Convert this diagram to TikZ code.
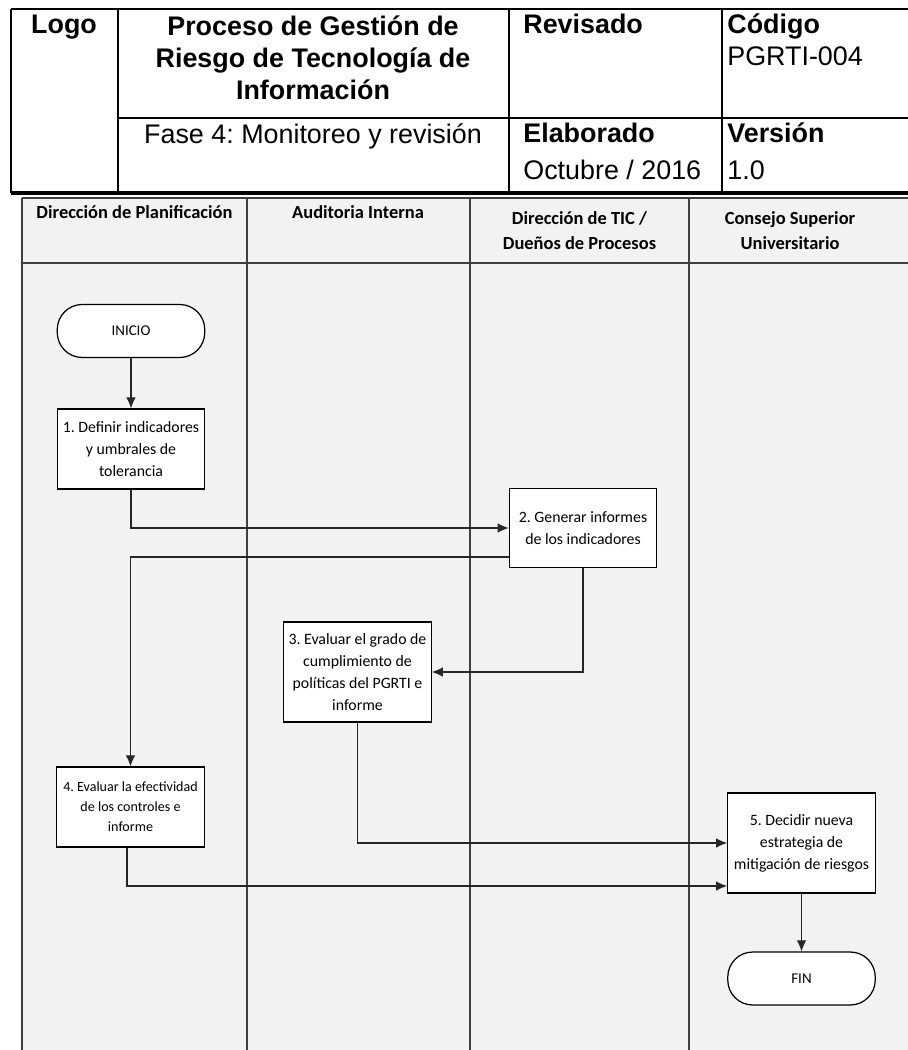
\documentclass[tikz,border=0pt]{standalone}
\usepackage{fontspec}
\setmainfont{Carlito}
\newfontfamily\hdrfont{Liberation Sans}
\usetikzlibrary{arrows.meta}
\definecolor{lanegray}{HTML}{F2F2F2}
\definecolor{laneline}{HTML}{3F3F3F}
\frenchspacing

\tikzset{%
  hdrtext/.style={inner sep=0pt, font=\hdrfont\fontsize{15.3pt}{18.4pt}\selectfont},%
  hdrbold/.style={hdrtext, font=\hdrfont\bfseries\fontsize{15.3pt}{18.4pt}\selectfont},%
  lanehead/.style={align=center, inner sep=0pt, font=\bfseries\fontsize{10.5pt}{14.2pt}\selectfont},%
  procbox/.style={draw=black, fill=white, rectangle, line width=0.7pt, minimum width=2.95cm, align=center, inner xsep=1pt, font=\fontsize{9pt}{12.5pt}\selectfont},%
  termbox/.style={draw=black, fill=white, rectangle, rounded corners=0.5cm, line width=0.7pt, minimum width=2.95cm, minimum height=1.06cm, font=\fontsize{8.5pt}{10pt}\selectfont},%
  flow/.style={draw=black!85, line width=0.6pt, -{Latex[length=2.2mm, width=1.9mm]}},%
}

\begin{document}
\begin{tikzpicture}[x=0.02cm, y=-0.02cm]%
\useasboundingbox (0,0) rectangle (908,1050);%
% encabezado del documento
\draw[line width=1.3pt] (11,9) -- (908,9);%
\draw[line width=1.3pt] (11,9) -- (11,193);%
\draw[line width=2pt] (11,193) -- (908,193);%
\draw[line width=1pt] (118,9) -- (118,193);%
\draw[line width=1pt] (509,9) -- (509,193);%
\draw[line width=1pt] (722,9) -- (722,193);%
\draw[line width=1pt] (118,118) -- (908,118);%
\node[hdrbold, anchor=base] (logo) at (64,34) {Logo};%
\node[hdrbold, anchor=north, align=center] (titulo) at (313,15) {Proceso de Gestión de\\Riesgo de Tecnología de\\Información};%
\node[hdrtext, anchor=base] (fase) at (313,144) {Fase 4: Monitoreo y revisión};%
\node[hdrbold, anchor=base west] (revisado) at (523,34) {Revisado};%
\node[hdrbold, anchor=base west] (elaborado) at (523,143) {Elaborado};%
\node[hdrtext, anchor=base west] (fecha) at (523,180) {Octubre / 2016};%
\node[hdrbold, anchor=base west] (codigo) at (727,34) {Código};%
\node[hdrtext, anchor=base west] (codnum) at (727,66) {PGRTI-004};%
\node[hdrbold, anchor=base west] (version) at (727,143) {Versión};%
\node[hdrtext, anchor=base west] (vernum) at (727,180) {1.0};%
% carriles
\fill[lanegray] (22,198) rectangle (908,1050);%
\draw[laneline, line width=0.6pt] (22,198) -- (908,198);%
\draw[laneline, line width=0.6pt] (22,263) -- (908,263);%
\draw[laneline, line width=1.1pt] (22,198) -- (22,1050);%
\foreach \lx in {247,470,689} {\draw[laneline, line width=0.6pt] (\lx,198) -- (\lx,1050);}%
\node[lanehead, anchor=base] (planif) at (134.5,219) {Dirección de Planificación};%
\node[lanehead, anchor=base] (audit) at (358,219) {Auditoria Interna};%
\node[lanehead, anchor=north] (tic) at (579.5,211) {Dirección de TIC /\\Dueños de Procesos};%
\node[lanehead, anchor=north] (consejo) at (790,211) {Consejo Superior\\Universitario};%
% actividades
\node[termbox] (inicio) at (131,331) {INICIO};%
\node[procbox, minimum height=1.6cm] (p1) at (131,449) {1. Definir indicadores\\y umbrales de\\tolerancia};%
\node[procbox, minimum height=1.58cm] (p2) at (583,528) {2. Generar informes\\de los indicadores};%
\node[procbox, minimum height=2cm] (p3) at (357.5,672) {3. Evaluar el grado de\\cumplimiento de\\políticas del PGRTI e\\informe};%
\node[procbox, minimum height=1.6cm, font=\fontsize{8pt}{11.3pt}\selectfont] (p4) at (130.5,807) {4. Evaluar la efectividad\\de los controles e\\informe};%
\node[procbox, minimum height=2cm] (p5) at (801.5,843) {5. Decidir nueva\\estrategia de\\mitigación de riesgos};%
\node[termbox] (fin) at (801.5,978.5) {FIN};%
% flujo
\draw[flow] (inicio) -- (p1);%
\draw[flow] (p1.south) |- (p2.west);%
\draw[flow] ([yshift=-0.58cm]p2.west) -| (p4.north);%
\draw[flow] (p2.south) |- (p3.east);%
\draw[flow] (p3.south) |- (p5.west);%
\draw[flow] ([xshift=-0.07cm]p4.south) |- ([yshift=-0.86cm]p5.west);%
\draw[flow] (p5) -- (fin);%
\end{tikzpicture}
\end{document}
